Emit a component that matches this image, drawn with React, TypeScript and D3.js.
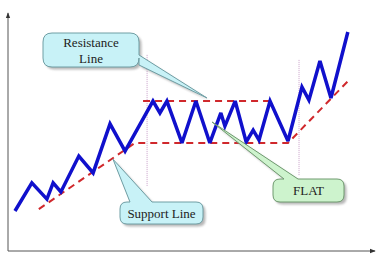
import React from "react";
import * as d3 from "d3";

// price path (time index 0..100, price 0..100)
const priceT = [1.9, 6.5, 10.6, 12.3, 14.4, 19.3, 23.2, 27.8, 31.9, 39.5, 41.4, 43.3, 47.4, 51.2, 55.0, 58.0, 59.1, 61.9, 64.9, 66.8, 68.4, 71.4, 76.3, 80.1, 82.0, 85.0, 88.0, 92.6];
const priceV = [16.8, 28.6, 21.8, 28.6, 24.8, 39.9, 32.8, 53.4, 42.0, 63.0, 58.0, 63.0, 45.4, 63.0, 45.4, 58.0, 52.5, 63.0, 45.8, 50.8, 46.6, 63.0, 46.2, 68.9, 63.4, 79.8, 64.3, 92.0];

// support line: rising, flat, rising again
const supportT = [8.4, 34.6, 76.3, 93.2];
const supportV = [17.6, 45.4, 45.4, 72.3];

// resistance level
const resistanceT = [36.8, 71.9];
const resistanceV = [63.0, 63.0];

// range boundaries (vertical markers)
const markerT = [37.9, 79.3];
const markerTop = [82.4, 80.3];
const markerBottom = [27.3, 31.5];

// callout labels
const calloutLabels = [["Resistance", "Line"], ["Support Line"], ["FLAT"]];
const calloutTipT = [54.2, 28.6, 55.6];
const calloutTipV = [64.3, 38.6, 54.2];

const W = 379;
const H = 257;

const x = d3.scaleLinear().domain([0, 100]).range([8, 375]);
const y = d3.scaleLinear().domain([0, 100]).range([251, 13]);

type Box = { x: number; y: number; w: number; h: number; r: number; side: "top" | "right"; a: number; b: number };

function calloutPath(bx: Box, tip: [number, number]) {
  const { r } = bx;
  const x0 = bx.x, y0 = bx.y, x1 = bx.x + bx.w, y1 = bx.y + bx.h;
  let p = `M${x0 + r},${y0}`;
  if (bx.side === "top") p += `L${bx.a},${y0}L${tip[0]},${tip[1]}L${bx.b},${y0}`;
  p += `L${x1 - r},${y0}Q${x1},${y0} ${x1},${y0 + r}`;
  if (bx.side === "right") p += `L${x1},${bx.a}L${tip[0]},${tip[1]}L${x1},${bx.b}`;
  p += `L${x1},${y1 - r}Q${x1},${y1} ${x1 - r},${y1}`;
  p += `L${x0 + r},${y1}Q${x0},${y1} ${x0},${y1 - r}`;
  p += `L${x0},${y0 + r}Q${x0},${y0} ${x0 + r},${y0}Z`;
  return p;
}

const boxes: Box[] = [
  { x: 43, y: 33, w: 96, h: 34, r: 9, side: "right", a: 55, b: 65 },
  { x: 120, y: 202, w: 83, h: 22, r: 7, side: "top", a: 130, b: 152 },
  { x: 273, y: 179, w: 71, h: 23, r: 7, side: "top", a: 284, b: 298 },
];
const fills = ["#c8f2f7", "#c8f2f7", "#cdf3cd"];
const strokes = ["#6f9ea4", "#6f9ea4", "#6f9a6f"];

export default function App() {
  const line = d3.line<number>().x((d, i) => x(priceT[i])).y((d) => y(d));
  const sup = d3.line<number>().x((d, i) => x(supportT[i])).y((d) => y(d));
  const res = d3.line<number>().x((d, i) => x(resistanceT[i])).y((d) => y(d));

  return (
    <svg width={W} height={H} style={{ position: "absolute", left: 0, top: 0, background: "#fff" }}>
      <defs>
        <filter id="blur" x="-10%" y="-10%" width="130%" height="130%">
          <feGaussianBlur stdDeviation="1.2" />
        </filter>
        <marker id="arr" viewBox="0 0 8 8" refX="7" refY="4" markerWidth="6" markerHeight="6" orient="auto">
          <path d="M0,1L8,4L0,7Z" fill="#333" />
        </marker>
      </defs>

      {/* axes */}
      <line x1={x(0)} y1={y(0)} x2={x(0)} y2={y(100)} stroke="#555" strokeWidth={1} markerEnd="url(#arr)" />
      <line x1={x(0)} y1={y(0)} x2={x(100)} y2={y(0)} stroke="#555" strokeWidth={1} markerEnd="url(#arr)" />

      {/* range markers */}
      {markerT.map((t, i) => (
        <line key={i} x1={x(t)} x2={x(t)} y1={y(markerTop[i])} y2={y(markerBottom[i])} stroke="#c9a0c9" strokeWidth={1} strokeDasharray="1,1" />
      ))}

      {/* support / resistance */}
      <path d={sup(supportV) || ""} fill="none" stroke="#d0282c" strokeWidth={2} strokeDasharray="7,5" />
      <path d={res(resistanceV) || ""} fill="none" stroke="#d0282c" strokeWidth={2} strokeDasharray="7,5" />

      {/* price */}
      <path d={line(priceV) || ""} fill="none" stroke="#1010cc" strokeWidth={3.5} strokeLinejoin="miter" strokeMiterlimit={3} />

      {/* callouts */}
      {boxes.map((b, i) => {
        const tip: [number, number] = [x(calloutTipT[i]), y(calloutTipV[i])];
        const d = calloutPath(b, tip);
        const lines = calloutLabels[i];
        const cy = b.y + b.h / 2;
        return (
          <g key={i}>
            <path d={calloutPath({ ...b, x: b.x + 2.5, y: b.y + 2.5, a: b.a + 2.5, b: b.b + 2.5 }, [tip[0] + 2.5, tip[1] + 2.5])} fill="#888" opacity={0.6} filter="url(#blur)" />
            <path d={d} fill={fills[i]} stroke={strokes[i]} strokeWidth={1} />
            {lines.map((s, j) => (
              <text key={j} x={b.x + b.w / 2} y={cy + (j - (lines.length - 1) / 2) * 16} dy="0.35em" textAnchor="middle" style={{ fontFamily: '"Liberation Serif", "Times New Roman", Tinos, "DejaVu Serif", serif', fontSize: "13px" }} fill="#222">
                {s}
              </text>
            ))}
          </g>
        );
      })}
    </svg>
  );
}
